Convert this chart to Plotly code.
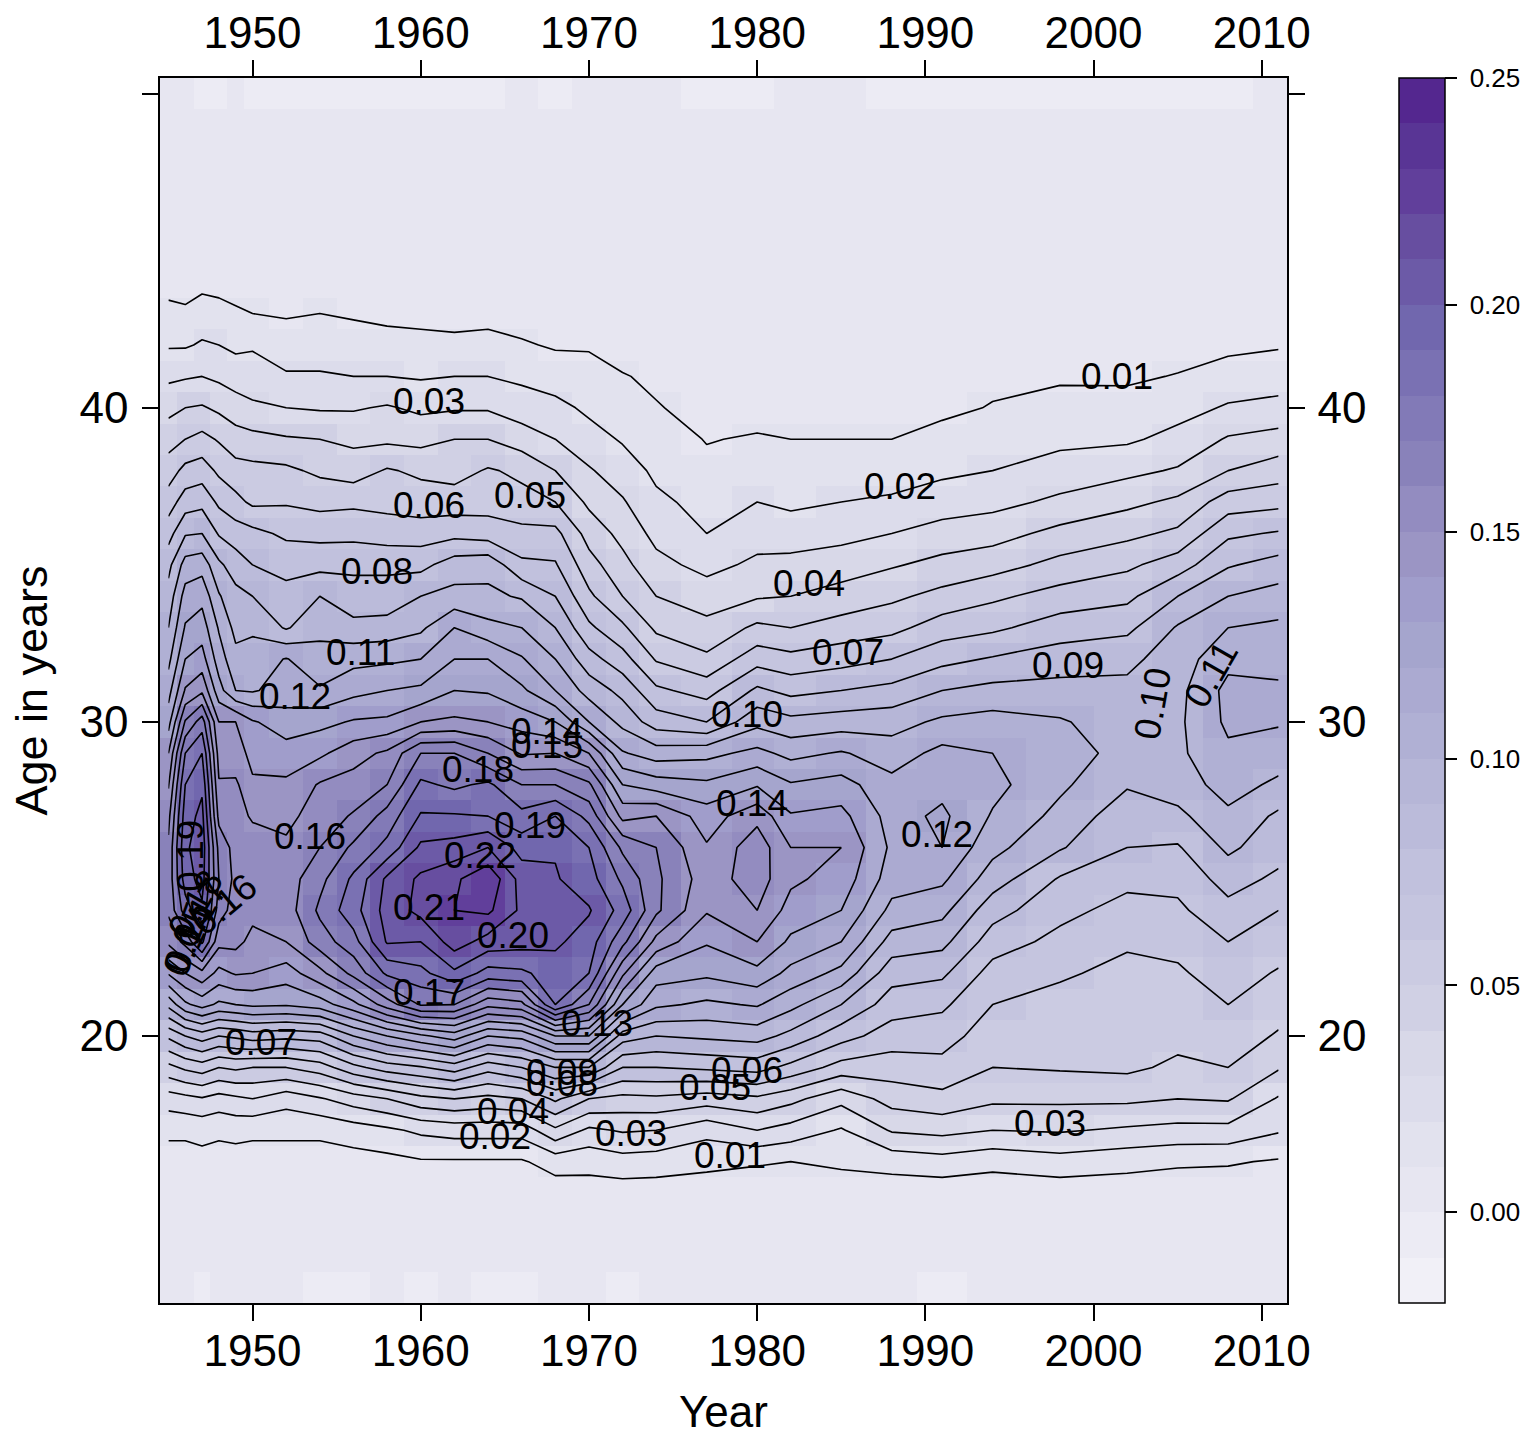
import plotly.graph_objects as go

# ---- data ----
years = [1945, 1946, 1947, 1948, 1949, 1950, 1952, 1954, 1956, 1958, 1960, 1962, 1964, 1966, 1968,
         1970, 1972, 1974, 1977, 1980, 1982, 1985, 1988, 1991, 1994, 1998, 2002, 2005, 2008, 2011]
core_ages = list(range(15, 45))

# each list: ages 15..44
v1945 = [.004,.006,.012,.025,.047,.072,.103,.131,.152,.162,.163,.162,.157,.149,.14,.126,.116,.107,.100,.094,.087,.076,.065,.055,.046,.037,.028,.019,.013,.006]
v1946 = [.004,.006,.012,.027,.052,.08,.118,.14,.163,.185,.195,.198,.195,.19,.18,.161,.141,.13,.121,.114,.104,.089,.075,.063,.05,.04,.029,.019,.012,.005]
v1947 = [.004,.007,.013,.029,.055,.085,.124,.147,.182,.198,.204,.206,.203,.198,.19,.175,.148,.134,.125,.117,.106,.09,.077,.065,.053,.041,.03,.021,.015,.007]
v1948 = [.004,.006,.012,.026,.05,.08,.118,.137,.153,.165,.17,.167,.157,.151,.146,.14,.124,.115,.109,.101,.092,.079,.068,.058,.049,.038,.028,.02,.015,.005]
v1949 = [.004,.006,.013,.028,.052,.082,.12,.141,.153,.155,.157,.156,.153,.152,.143,.14,.11,.103,.097,.093,.085,.075,.063,.054,.044,.035,.025,.018,.012,.004]
v1950 = [.004,.006,.012,.03,.05,.085,.122,.14,.147,.153,.155,.154,.149,.141,.138,.131,.109,.105,.098,.09,.08,.073,.058,.053,.043,.032,.024,.019,.01,.004]
v1952 = [.004,.006,.012,.024,.05,.083,.121,.135,.15,.155,.155,.152,.147,.142,.134,.125,.114,.1105,.089,.083,.077,.068,.059,.052,.041,.03,.021,.015,.009,.004]
v1954 = [.004,.006,.012,.029,.055,.085,.125,.147,.165,.172,.167,.16,.155,.151,.138,.127,.111,.104,.097,.09,.077,.067,.057,.048,.04,.029,.021,.015,.01,.004]
v1956 = [.004,.006,.015,.035,.067,.10,.137,.163,.176,.186,.182,.172,.161,.154,.146,.131,.117,.107,.093,.084,.078,.067,.058,.045,.038,.029,.02,.014,.009,.004]
v1958 = [.004,.007,.018,.04,.075,.11,.155,.182,.201,.204,.202,.183,.174,.16,.152,.132,.12,.108,.094,.084,.078,.065,.057,.051,.038,.031,.02,.013,.008,.004]
v1960 = [.004,.009,.022,.047,.079,.118,.171,.187,.20,.213,.212,.202,.191,.182,.17,.14,.122,.11,.098,.09,.077,.065,.055,.048,.037,.028,.019,.012,.008,.004]
v1962 = [.004,.009,.024,.05,.085,.125,.17,.198,.215,.22,.218,.204,.191,.178,.17,.142,.13,.12,.11,.093,.085,.067,.055,.046,.04,.029,.02,.012,.007,.004]
v1964 = [.004,.009,.024,.047,.074,.11,.153,.186,.206,.222,.228,.21,.19,.182,.16,.14,.129,.12,.103,.092,.087,.065,.056,.051,.04,.029,.02,.012,.008,.004]
v1966 = [.004,.009,.024,.05,.08,.113,.157,.188,.204,.208,.206,.196,.183,.17,.149,.136,.122,.111,.10,.089,.072,.063,.053,.048,.035,.025,.018,.011,.006,.003]
v1968 = [.005,.014,.038,.062,.09,.13,.19,.195,.202,.204,.201,.199,.19,.17,.15,.13,.11,.10,.09,.08,.071,.063,.05,.04,.03,.023,.015,.009,.005,.003]
v1970 = [.006,.013,.028,.05,.09,.13,.17,.19,.195,.201,.194,.19,.177,.162,.14,.11,.096,.084,.072,.062,.054,.046,.038,.031,.024,.018,.0136,.009,.003,.002]
v1972 = [.005,.016,.031,.047,.07,.095,.13,.152,.173,.186,.178,.168,.147,.13,.111,.097,.087,.074,.062,.05,.043,.037,.031,.025,.019,.015,.011,.003,.002,.002]
v1974 = [.005,.015,.03,.048,.07,.09,.112,.125,.147,.162,.162,.16,.15,.125,.105,.085,.072,.059,.048,.04,.033,.027,.022,.018,.015,.011,.007,.004,.002,.001]
v1977 = [.004,.013,.023,.045,.072,.092,.108,.122,.131,.141,.145,.141,.135,.122,.107,.08,.066,.052,.043,.035,.027,.02,.017,.0125,.0095,.005,.002,.001,.001,.001]
v1980 = [.004,.011,.03,.048,.074,.094,.111,.127,.14,.15,.155,.156,.147,.129,.113,.097,.082,.066,.052,.039,.032,.026,.02,.015,.011,.006,.002,.002,.001,.001]
v1982 = [.004,.01,.026,.043,.067,.087,.103,.117,.128,.136,.142,.14,.131,.121,.107,.093,.077,.063,.05,.04,.033,.025,.018,.013,.01,.006,.003,.002,.001,.001]
v1985 = [.004,.012,.019,.033,.056,.074,.09,.107,.12,.13,.136,.14,.133,.124,.111,.095,.08,.066,.054,.044,.035,.027,.02,.014,.01,.006,.003,.002,.001,.001]
v1988 = [.004,.014,.031,.044,.055,.065,.075,.084,.096,.107,.115,.118,.116,.113,.105,.096,.083,.07,.057,.048,.039,.03,.022,.014,.01,.006,.003,.002,.001,.001]
v1991 = [.004,.016,.033,.047,.057,.064,.072,.082,.093,.103,.112,.12,.122,.117,.113,.102,.09,.077,.065,.053,.043,.034,.025,.018,.013,.008,.005,.002,.001,.001]
v1994 = [.004,.013,.03,.042,.05,.055,.06,.066,.075,.084,.095,.103,.109,.113,.11,.104,.093,.081,.068,.058,.046,.036,.027,.02,.015,.0105,.008,.004,.002,.002]
v1998 = [.004,.016,.031,.042,.051,.055,.0575,.061,.067,.073,.079,.091,.097,.102,.104,.101,.0935,.085,.075,.064,.053,.043,.032,.0245,.0175,.0125,.009,.005,.003,.002]
v2002 = [.004,.0135,.0285,.042,.052,.0565,.0575,.058,.061,.0665,.0727,.08,.084,.091,.097,.095,.0925,.0875,.0775,.0675,.058,.0475,.0375,.0275,.0185,.0135,.0085,.005,.003,.002]
v2005 = [.004,.0115,.027,.04,.048,.053,.0555,.0585,.063,.068,.073,.079,.0875,.095,.098,.098,.097,.095,.091,.08,.065,.052,.042,.031,.023,.0165,.0105,.006,.004,.002]
v2008 = [.004,.011,.027,.041,.05,.055,.06,.065,.07,.077,.084,.092,.098,.104,.108,.112,.113,.107,.100,.09,.079,.068,.055,.04,.031,.021,.0145,.0075,.005,.003]
v2011 = [.004,.009,.021,.029,.041,.049,.054,.059,.065,.07,.078,.084,.088,.098,.105,.111,.1115,.107,.102,.094,.084,.071,.057,.045,.034,.0225,.016,.009,.006,.004]
columns = [v1945, v1946, v1947, v1948, v1949, v1950, v1952, v1954, v1956, v1958, v1960, v1962, v1964, v1966, v1968,
           v1970, v1972, v1974, v1977, v1980, v1982, v1985, v1988, v1991, v1994, v1998, v2002, v2005, v2008, v2011]

# rows outside the contoured band
row12 = [.003,.003,-.002,.003,.003,.003,.003,-.002,-.002,.003,-.002,.003,-.002,-.002,.003,.003,-.002,.003,.003,.003,.003,.003,.003,-.002,.003,.003,.003,.003,.003,.003]
row13 = [.003,.003,.003,.003,.003,.003,.003,.003,.003,.003,.003,.003,.003,.003,.003,.003,.003,.003,.003,.003,.003,.003,.003,.003,.003,.003,.003,.003,.003,.003]
row14 = [.003,.003,.003,.003,.003,.003,.003,.003,.003,.003,.003,.003,.003,.003,.003,.003,.003,.003,.003,.003,.003,.003,.003,.003,.003,.003,.003,.003,.003,.003]
row45 = [.003,.003,.003,.003,.003,.003,.003,.003,.003,.003,.003,.003,.003,.003,.003,.003,.003,.003,.003,.003,.003,.003,.003,.003,.003,.003,.003,.003,.003,.003]
row46 = [.003,.003,.003,.003,.003,.003,.003,.003,.003,.003,.003,.003,.003,.003,.003,.003,.003,.003,.003,.003,.003,.003,.003,.003,.003,.003,.003,.003,.003,.003]
row49 = [.003,.003,.003,.003,.003,.003,.003,.003,.003,.003,.003,.003,.003,.003,.003,.003,.003,.003,.003,.003,.003,.003,.003,.003,.003,.003,.003,.003,.003,.003]
row50 = [.003,.003,-.002,-.002,.003,-.002,-.002,-.002,-.002,-.002,-.002,-.002,-.002,.003,-.002,.003,.003,.003,-.002,-.002,.003,.003,-.002,-.002,-.002,-.002,-.002,-.002,-.002,.003]

ages = [12, 13, 14] + core_ages + [45, 46, 49, 50]

label_text = ["0.01","0.01","0.02","0.02","0.03","0.03","0.03","0.04","0.04","0.05","0.05","0.06","0.06","0.07","0.07",
              "0.08","0.08","0.09","0.09","0.10","0.10","0.11","0.11","0.12","0.12","0.13","0.14","0.14","0.15","0.16","0.16",
              "0.17","0.18","0.19","0.19","0.20","0.21","0.22","0.18","0.17","0.15","0.14"]
label_year = [2001.4,1978.4,1988.5,1964.4,1960.5,1972.5,1997.4,1983.1,1965.5,1966.5,1977.5,1960.5,1979.4,1985.4,1950.5,
              1957.4,1968.4,1968.4,1998.5,1979.4,2003.5,1956.4,2007,1952.5,1990.7,1970.5,1967.5,1979.7,1967.5,1953.4,1948.3,
              1960.5,1963.4,1966.5,1946.3,1965.5,1960.5,1963.5,1946.6,1946.85,1946.1,1946.2]
label_age = [41.0,16.2,37.5,16.8,40.2,16.9,17.2,34.4,17.6,37.2,18.35,36.9,18.9,32.2,19.8,
             34.8,18.5,18.85,31.8,30.25,30.6,32.2,31.5,30.8,26.4,20.4,29.7,27.4,29.25,26.35,24.2,
             21.4,28.5,26.7,25.75,23.2,24.1,25.75,24.2,23.9,23.15,23.0]
label_angle = [0,0,0,0,0,0,0,0,0,0,0,0,0,0,0,
               0,0,0,0,0,-80,0,-60,0,0,0,0,0,0,0,-40,
               0,0,0,-90,0,0,0,-60,-60,-70,-65]

year_ticks = [1950, 1960, 1970, 1980, 1990, 2000, 2010]
age_ticks = [20, 30, 40, 50]
age_tick_text = ["20", "30", "40", ""]
bar_ticks = [0.00, 0.05, 0.10, 0.15, 0.20, 0.25]
bar_tick_text = ["\u00a00.00", "\u00a00.05", "\u00a00.10", "\u00a00.15", "\u00a00.20", "\u00a00.25"]
# one colour per 0.01 band, -0.02 upward
band_colors = ["#F1F0F7","#ECEBF4","#E7E6F1","#E2E2EE","#DCDCEB","#D8D8E8","#D0D0E4","#CBCBE2","#C5C5DF",
               "#C1C1DD","#BBBBDA","#B6B6D7","#B0B0D4","#ABAAD1","#A5A5CD","#A09DCB","#9B95C4","#938CC0",
               "#8982BA","#827AB7","#7A71B3","#7167AE","#6C5AA7","#674EA0","#613F9B","#593595","#54278F"]

# ---- assemble ----
core_rows = [[col[i] for col in columns] for i in range(len(core_ages))]
z = [row12, row13, row14] + core_rows + [row45, row46, row49, row50]

W, H = 1527, 1436
FONT = "Liberation Sans"
bins = len(band_colors)
colorscale = []
for b, colour in enumerate(band_colors):
    colorscale.append([b / bins, colour])
    colorscale.append([(b + 1) / bins, colour])

fig = go.Figure()
fig.add_trace(go.Heatmap(
    x=years, y=ages, z=z, zmin=-0.02, zmax=0.25, colorscale=colorscale, hoverinfo="skip",
    colorbar=dict(
        thickness=46, thicknessmode="pixels", len=(1303 - 78) / H, lenmode="fraction",
        x=1399 / W, xanchor="left", xpad=0, y=1 - (1303 + 78) / 2 / H, yanchor="middle", ypad=0,
        outlinecolor="black", outlinewidth=1.5,
        tickmode="array", tickvals=bar_ticks, ticktext=bar_tick_text, ticks="outside", ticklen=12, tickwidth=1.5,
        tickcolor="black", tickfont=dict(family=FONT, size=26, color="black"),
    ),
))
fig.add_trace(go.Contour(
    x=years, y=ages, z=z, showscale=False, hoverinfo="skip",
    contours=dict(coloring="none", start=0.01, end=0.24, size=0.01, showlabels=False),
    line=dict(color="black", width=1.6, smoothing=0),
))
# carrier for the top / right axes
fig.add_trace(go.Scatter(x=[1950], y=[30], xaxis="x2", yaxis="y2", mode="markers",
                         marker=dict(opacity=0), hoverinfo="skip", showlegend=False))

axis_common = dict(ticks="outside", ticklen=16, tickwidth=1.6, tickcolor="black", showgrid=False, zeroline=False,
                   tickfont=dict(family=FONT, size=44, color="black"), showline=True, linecolor="black", linewidth=1.6)
xdom = [160 / W, 1287 / W]
ydom = [(H - 1303) / H, (H - 78) / H]
xr = [1944.5, 2011.5]
yr = [11.5, 50.5]

annotations = [
    dict(x=a, y=b, xref="x", yref="y", text=t, textangle=g, showarrow=False,
         font=dict(family=FONT, size=37, color="black"), xanchor="center", yanchor="middle")
    for t, a, b, g in zip(label_text, label_year, label_age, label_angle)
]

fig.update_layout(
    width=W, height=H, margin=dict(l=0, r=0, t=0, b=0, autoexpand=False), paper_bgcolor="white", plot_bgcolor="white",
    showlegend=False, annotations=annotations,
    xaxis=dict(domain=xdom, range=xr, tickmode="array", tickvals=year_ticks, side="bottom", anchor="y", mirror=False,
               ticklabelstandoff=-8,
               title=dict(text="Year", font=dict(family=FONT, size=44, color="black"), standoff=26), automargin=False, **axis_common),
    yaxis=dict(domain=ydom, range=yr, tickmode="array", tickvals=age_ticks, ticktext=age_tick_text, side="left", anchor="x",
               ticklabelstandoff=5,
               title=dict(text="Age in years", font=dict(family=FONT, size=45, color="black"), standoff=18), automargin=False, **axis_common),
    xaxis2=dict(domain=xdom, range=xr, tickmode="array", tickvals=year_ticks, side="top", overlaying="x", anchor="y2",
                ticklabelstandoff=-5, automargin=False, **axis_common),
    yaxis2=dict(domain=ydom, range=yr, tickmode="array", tickvals=age_ticks, ticktext=age_tick_text, side="right", overlaying="y", anchor="x2",
                ticklabelstandoff=4, automargin=False, **axis_common),
)

fig.write_html("out.html", config={"displayModeBar": False}, post_script="document.body.style.margin='0';")
